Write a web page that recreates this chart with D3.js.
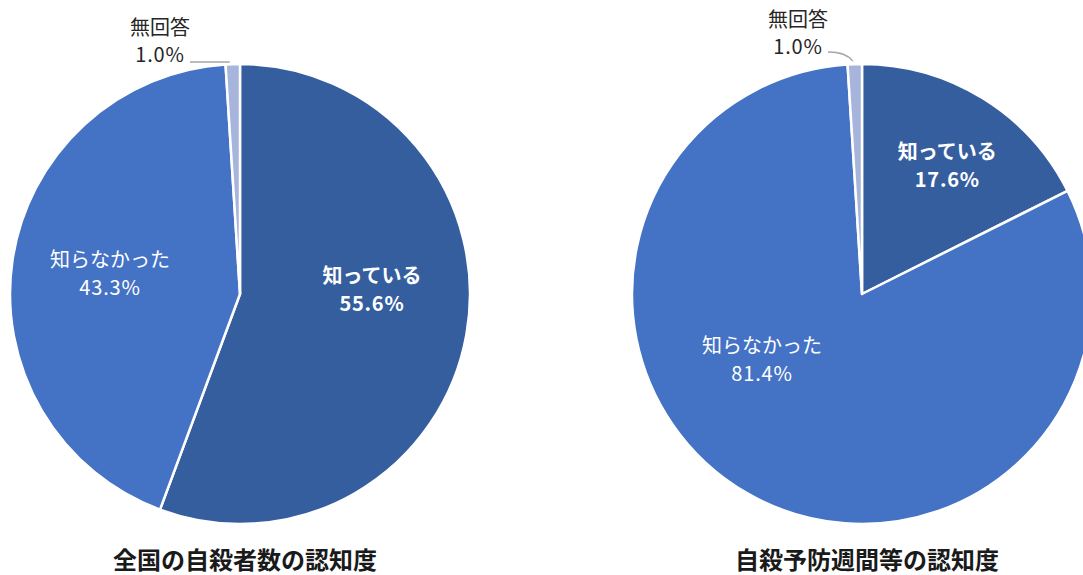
<!DOCTYPE html>
<html><head><meta charset="utf-8">
<script src="https://cdn.jsdelivr.net/npm/d3@7"></script>
<style>body{margin:0;background:#fff}svg{display:block}</style>
</head><body>
<svg id="c" width="1083" height="575"></svg>
<script>
const categories = ["知っている", "知らなかった", "無回答"];
const valuesLeft = [55.6, 43.3, 1.0];
const valuesRight = [17.6, 81.4, 1.0];
const titles = ["全国の自殺者数の認知度", "自殺予防週間等の認知度"];
const colors = ["#355E9F", "#4472C4", "#A7B5DC"];
// label placement: [angle in degrees from top, radius fraction]
const labelPolarLeft = [[88.3, 0.574], [278.7, 0.572]];
const labelPolarRight = [[33.6, 0.67], [236.6, 0.521]];

const svg = d3.select("#c");
const font = "'Noto Sans CJK JP', 'Noto Sans', sans-serif";
const R = 230;
const cy = 294;

function drawPie(cx, values, title, labelPolar, outer) {
  const g = svg.append("g").attr("transform", `translate(${cx},${cy})`);
  const pie = d3.pie().sort(null).value(d => d)(values);
  const arc = d3.arc().innerRadius(0).outerRadius(R);
  g.selectAll("path.slice").data(pie).join("path").attr("class", "slice")
    .attr("d", arc)
    .attr("fill", (d, i) => colors[i])
    .attr("stroke", "#fff").attr("stroke-width", 2.5).attr("stroke-linejoin", "round");

  labelPolar.forEach((p, i) => {
    const a = p[0] * Math.PI / 180, r = p[1] * R;
    const x = Math.sin(a) * r, y = -Math.cos(a) * r;
    const bold = i === 0 ? 700 : 400;
    g.append("text").attr("x", x).attr("y", y - 7).attr("text-anchor", "middle")
      .attr("font-family", font).attr("font-size", 20).attr("font-weight", bold)
      .attr("fill", "#fff").text(categories[i]);
    g.append("text").attr("x", x).attr("y", y + 21).attr("text-anchor", "middle")
      .attr("font-family", font).attr("font-size", 20).attr("font-weight", bold)
      .attr("letter-spacing", 0.8)
      .attr("fill", "#fff").text(values[i].toFixed(1) + "%");
  });

  // outside label for 無回答
  const d = pie[2];
  const mid = (d.startAngle + d.endAngle) / 2;
  const ex = Math.sin(mid) * R, ey = -Math.cos(mid) * R;
  const tx = outer.tx, ty = outer.ty;
  g.append("path")
    .attr("d", outer.curve
      ? `M${tx + 2},${ty + 8} Q${tx + 20},${ty + 8} ${ex + outer.ex},${ey - 3}`
      : `M${tx + 2},${ty + 10} L${ex + outer.ex},${ty + 10}`)
    .attr("fill", "none").attr("stroke", "#A6A6A6").attr("stroke-width", 1.3);
  g.append("text").attr("x", tx - 28).attr("y", ty - 17).attr("text-anchor", "middle")
    .attr("font-family", font).attr("font-size", 20).attr("fill", "#262626").text(categories[2]);
  g.append("text").attr("x", tx - 28).attr("y", ty + 10).attr("text-anchor", "middle")
    .attr("font-family", font).attr("font-size", 20).attr("letter-spacing", 0.8)
    .attr("fill", "#262626").text(values[2].toFixed(1) + "%");

  svg.append("text").attr("x", cx + 5).attr("y", 569).attr("text-anchor", "middle")
    .attr("font-family", font).attr("font-size", 24).attr("font-weight", 700)
    .attr("fill", "#1a1a1a").text(title);
}

drawPie(240, valuesLeft, titles[0], labelPolarLeft, {tx: -52, ty: -242, ex: -3, curve: false});
drawPie(862, valuesRight, titles[1], labelPolarRight, {tx: -36, ty: -250, ex: -2, curve: true});
</script>
</body></html>
